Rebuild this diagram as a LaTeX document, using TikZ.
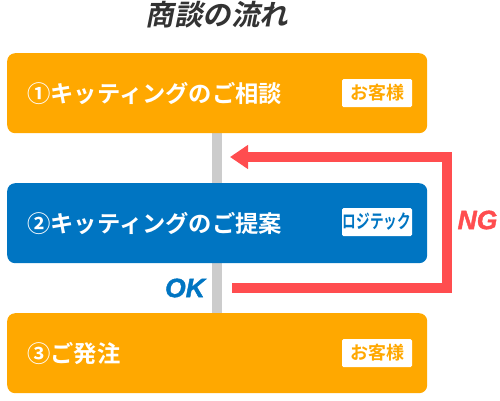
\documentclass[tikz,border=0pt]{standalone}
\usepackage{fontspec}
\usetikzlibrary{arrows.meta,backgrounds}
\newfontfamily\jpb{Noto Sans CJK JP Bold}
\newfontfamily\jpt[FakeSlant=0.2]{Noto Sans CJK JP Bold}
\newfontfamily\latin[FakeBold=1.5]{Liberation Sans Bold Italic}
\definecolor{cOrange}{HTML}{FFA800}
\definecolor{cBlue}{HTML}{0075C2}
\definecolor{cRed}{HTML}{FF4D4F}
\definecolor{cGray}{HTML}{CCCCCC}
\definecolor{cTitle}{HTML}{333333}
\tikzset{
  stepbox/.style={rounded corners=8pt, minimum width=420pt, minimum height=80pt, anchor=north west, inner sep=0pt},
  steplabel/.style={anchor=west, text=white, font=\jpb\fontsize{23.3}{27}\selectfont, inner sep=0pt},
  badge/.style={fill=white, rounded corners=1.5pt, minimum width=70pt, minimum height=28pt, inner sep=0pt, font=\jpb\fontsize{18}{20}\selectfont},
  flowline/.style={cGray, line width=10pt},
  ngline/.style={cRed, line width=10pt, line join=miter, -{Triangle[length=18pt,width=23pt]}},
  tag/.style={font=\latin\fontsize{26.5}{30}\selectfont, inner sep=0pt}
}
\begin{document}
\begin{tikzpicture}[x=1pt,y=-1pt]
\useasboundingbox (0,0) rectangle (500,400);
\node[font=\jpt\fontsize{28.5}{32}\selectfont, text=cTitle, inner sep=0pt] (title) at (217,15) {商談の流れ};
\node[stepbox, fill=cOrange] (s1) at (7,53) {};
\node[stepbox, fill=cBlue] (s2) at (7,183) {};
\node[stepbox, fill=cOrange] (s3) at (7,313) {};
\begin{scope}[on background layer]
\draw[flowline] (s1.south) -- (s3.north);
\end{scope}
\node[steplabel] (t1) at ([xshift=20pt]s1.west) {①キッティングのご相談};
\node[steplabel] (t2) at ([xshift=20pt]s2.west) {②キッティングのご提案};
\node[steplabel] (t3) at ([xshift=20pt]s3.west) {③ご発注};
\node[badge, text=cOrange] (b1) at (377,93) {お客様};
\node[badge, text=cBlue] (b2) at (377,222) {\scalebox{0.72}[1]{\fontsize{19}{21}\selectfont ロジテック}};
\node[badge, text=cOrange] (b3) at (377,353) {お客様};
\coordinate (ngstart) at (232,288);
\coordinate (ngend) at (230,157);
\draw[ngline] (ngstart) -- (447,288) -- (447,157) -- (ngend);
\node[tag, text=cBlue] (ok) at (185,288) {OK};
\node[tag, text=cRed] (ng) at (477.5,220) {NG};
\end{tikzpicture}
\end{document}
